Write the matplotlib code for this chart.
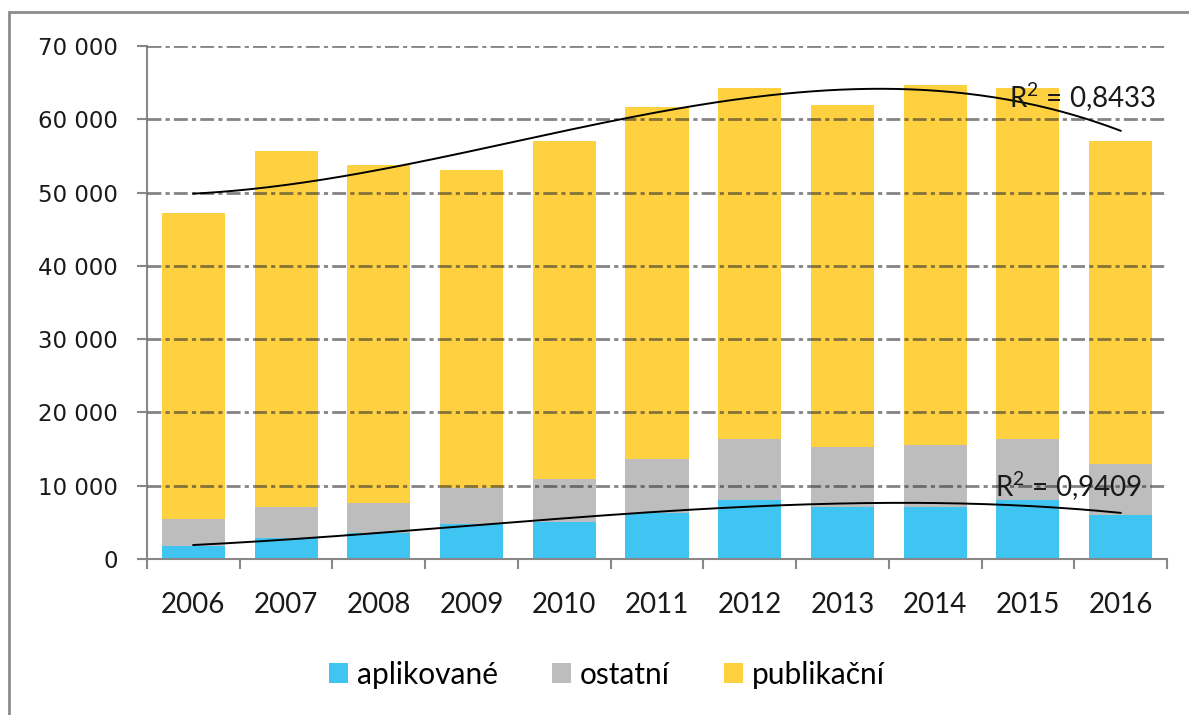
import matplotlib
matplotlib.use("Agg")
import matplotlib.pyplot as plt
import numpy as np
from matplotlib.patches import Rectangle

# values
years = ["2006", "2007", "2008", "2009", "2010", "2011",
         "2012", "2013", "2014", "2015", "2016"]
aplikovane = [1770, 2870, 3550, 4770, 5050, 6280, 8050, 7090, 7090, 8050, 6000]
ostatni = [3690, 4220, 4090, 4920, 5850, 7360, 8320, 8190, 8460, 8320, 6960]
publikacni = [41740, 48610, 46110, 43380, 46100, 48020, 47890, 46660, 49120, 47890, 44040]
r2_labels = ["R$^{\\mathrm{2}}$ = 0,8433", "R$^{\\mathrm{2}}$ = 0,9409"]

c_blue = "#40C4F2"
c_grey = "#BDBDBD"
c_yellow = "#FFD03F"

plt.rcParams['font.family'] = ['Lato', 'DejaVu Sans']
plt.rcParams['lines.scale_dashes'] = False
plt.rcParams['mathtext.fontset'] = 'custom'
plt.rcParams['mathtext.rm'] = 'Lato'

fig = plt.figure(figsize=(11.89, 7.15), dpi=100)
ax = fig.add_axes([147 / 1189, 1 - 559 / 715, 1020 / 1189, 513 / 715])

x = np.arange(len(years))
a = np.array(aplikovane)
o = np.array(ostatni)
p = np.array(publikacni)
w = 0.68
ax.bar(x, a, w, color=c_blue, label="aplikované", zorder=2)
ax.bar(x, o, w, bottom=a, color=c_grey, label="ostatní", zorder=2)
ax.bar(x, p, w, bottom=a + o, color=c_yellow, label="publikační", zorder=2)

# polynomial trend lines (3rd order, like excel)
xs = np.linspace(0, len(years) - 1, 200)
total = a + o + p
for vals in (total, a):
    coef = np.polyfit(x, vals, 3)
    ax.plot(xs, np.polyval(coef, xs), color="black", lw=1.4, zorder=4)

ax.text(8.80, 61500, r2_labels[0], fontsize=20, color="#1a1a1a",
        va="baseline", zorder=5)
ax.text(8.64, 8450, r2_labels[1], fontsize=20, color="#1a1a1a",
        va="baseline", zorder=5)

ax.set_xlim(-0.5, len(years) - 0.5)
ax.set_ylim(0, 70000)
yt = np.arange(0, 70001, 10000)
ax.set_yticks(yt)
ax.set_yticklabels([f"{v:,}".replace(",", " ") for v in yt],
                   fontfamily="DejaVu Sans", fontsize=16.5, color="#1a1a1a")
ax.set_xticks(np.arange(-0.5, len(years), 1.0))
ax.set_xticklabels([])
ax.set_xticks(x, minor=True)
ax.set_xticklabels(years, minor=True, fontsize=20, color="#1a1a1a")
ax.tick_params(axis="x", which="major", length=7, width=1.5, color="#888888",
               direction="out")
ax.tick_params(axis="x", which="minor", length=0, pad=24)
ax.tick_params(axis="y", length=7, width=1.5, color="#888888", pad=14)

for s in ("top", "right"):
    ax.spines[s].set_visible(False)
for s in ("left", "bottom"):
    ax.spines[s].set_color("#888888")
    ax.spines[s].set_linewidth(1.5)

for v in yt[1:]:
    ax.axhline(v, color="#333333", alpha=0.6, lw=2,
               linestyle=(0, (10, 3, 3, 3)), zorder=3)

ax.legend(loc="center", bbox_to_anchor=(0.451, -0.226), ncol=3, frameon=False,
          fontsize=21.5, handlelength=0.65, handleheight=0.65, handletextpad=0.3,
          columnspacing=1.8)

fig.patches.append(Rectangle((9 / 1189, -0.1), 1.2, 1 - 12 / 715 + 0.1,
                             transform=fig.transFigure, fill=False,
                             edgecolor="#8C8C8C", lw=2))

fig.savefig("out.png", dpi=100)
